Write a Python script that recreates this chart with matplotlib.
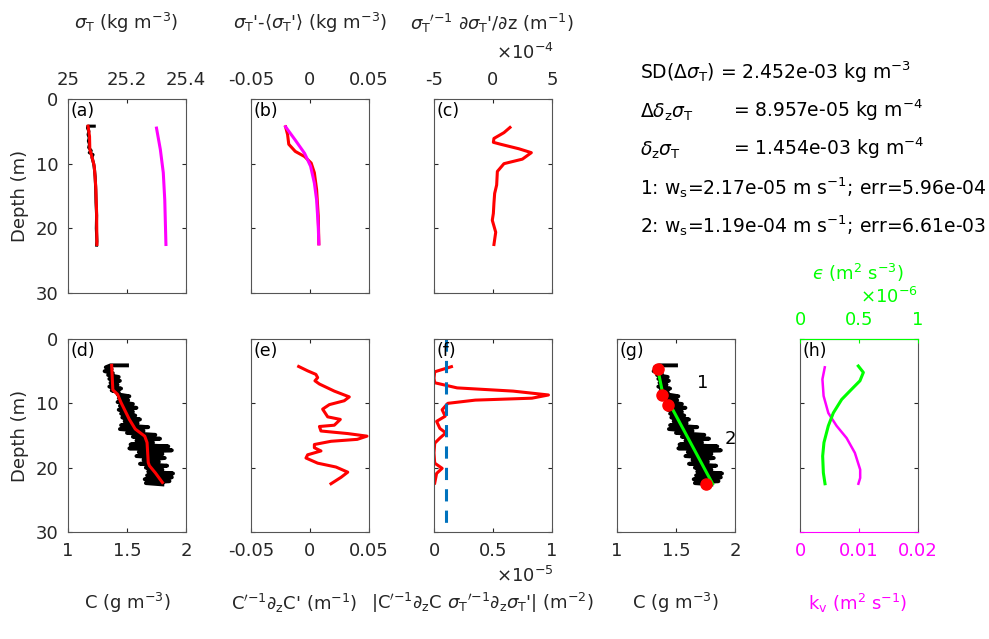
import matplotlib
matplotlib.use("Agg")
import matplotlib.pyplot as plt

plt.rcParams['font.family'] = ['DejaVu Sans']
plt.rcParams['mathtext.fontset'] = 'dejavusans'

W, H = 989, 639
GRAY = '#262626'
RED, MAG, GRN, BLU = '#FF0000', '#FF00FF', '#00FF00', '#0072BD'

# ---------------- data ----------------
depth_ticks = [0, 10, 20, 30]

# (a)
a_depth_raw = [4.2, 4.2, 4.5, 5.0, 5.5, 6.0, 6.5, 7.0, 7.5, 8.0, 8.3, 8.6, 9.0, 10.0, 11.0, 12.0, 14.0, 16.0, 18.0, 20.0, 22.0, 22.6]
a_sig_raw = [25.089, 25.067, 25.066, 25.071, 25.068, 25.072, 25.069, 25.073, 25.070, 25.079, 25.072, 25.085, 25.081, 25.087, 25.090, 25.092, 25.094, 25.095, 25.097, 25.096, 25.098, 25.097]
a_depth_s = [4.2, 5.8, 7.8, 8.9, 10.4, 13.5, 17.6, 22.5]
a_sig_s = [25.068, 25.073, 25.074, 25.081, 25.089, 25.094, 25.097, 25.098]
a_depth_m = [4.5, 7.8, 11.4, 15.6, 22.5]
a_sig_m = [25.300, 25.313, 25.323, 25.328, 25.332]
a_ticks = [25, 25.2, 25.4]

# (b)
b_depth_r = [4.3, 5.5, 7.0, 8.1, 8.9, 9.9, 11.4, 14.0, 18.1, 22.4]
b_val_r = [-0.0207, -0.019, -0.018, -0.0125, -0.0046, 0.001, 0.0037, 0.0056, 0.007, 0.0075]
b_depth_m = [4.3, 6.3, 8.4, 10.4, 13.0, 15.6, 19.7, 22.4]
b_val_m = [-0.0207, -0.0127, -0.0046, 0.0005, 0.0037, 0.0056, 0.007, 0.0075]
b_ticks = [-0.05, 0, 0.05]

# (c)
c_depth = [4.4, 5.2, 6.1, 6.7, 7.0, 7.7, 8.3, 9.3, 10.0, 11.2, 13.3, 14.6, 16.1, 17.7, 18.75, 20.6, 22.5]
c_val = [1.44e-4, 0.93e-4, 0.08e-4, 0.03e-4, 0.65e-4, 2.2e-4, 3.25e-4, 2.49e-4, 0.93e-4, 0.37e-4, 0.31e-4, 0.14e-4, 0.08e-4, 0.03e-4, -0.06e-4, 0.23e-4, 0.08e-4]
c_ticks = [-5e-4, 0, 5e-4]
c_ticklabels = ['-5', '0', '5']

# (d) and (g) raw concentration
C_depth_raw = [4.1, 4.1, 4.4, 4.7, 5.0, 5.3, 5.6, 5.9, 6.2, 6.5,
               6.8, 7.1, 7.4, 7.7, 8.0, 8.3, 8.6, 8.9, 9.2, 9.5,
               9.8, 10.1, 10.4, 10.7, 11.0, 11.3, 11.6, 11.9, 12.2, 12.5,
               12.8, 13.1, 13.4, 13.7, 14.0, 14.3, 14.6, 14.9, 15.2, 15.5,
               15.8, 16.1, 16.4, 16.7, 17.0, 17.3, 17.6, 17.9, 18.2, 18.5,
               18.8, 19.1, 19.4, 19.7, 20.0, 20.3, 20.6, 20.9, 21.2, 21.5,
               21.8, 22.1, 22.4, 22.6]
C_raw = [1.50, 1.36, 1.32, 1.37, 1.31, 1.38, 1.34, 1.43, 1.35, 1.44,
         1.36, 1.42, 1.35, 1.45, 1.37, 1.43, 1.42, 1.52, 1.43, 1.51,
         1.42, 1.55, 1.44, 1.58, 1.43, 1.55, 1.45, 1.57, 1.46, 1.61,
         1.48, 1.59, 1.45, 1.68, 1.44, 1.64, 1.50, 1.74, 1.55, 1.78,
         1.58, 1.72, 1.53, 1.85, 1.52, 1.88, 1.60, 1.80, 1.58, 1.82,
         1.64, 1.77, 1.61, 1.84, 1.66, 1.80, 1.68, 1.89, 1.67, 1.88,
         1.65, 1.86, 1.66, 1.80]
d_depth_s = [4.1, 7.9, 8.6, 9.9, 12.5, 14.0, 15.1, 16.1, 19.2, 19.7, 20.8, 22.3]
d_c_s = [1.37, 1.38, 1.42, 1.45, 1.52, 1.57, 1.65, 1.67, 1.68, 1.69, 1.74, 1.80]
C_ticks = [1, 1.5, 2]

# (e)
e_depth = [4.27, 4.95, 5.5, 6.0, 6.5, 7.0, 8.1, 9.0, 9.6, 10.2, 10.9, 12.1, 12.5, 13.4, 13.6, 14.3,
           14.7, 15.1, 15.6, 15.9, 16.4, 16.9, 17.4, 18.0, 18.5, 19.3, 19.9, 20.7, 21.5, 22.5]
e_val = [-0.0096, -0.002, 0.005, 0.0065, 0.0042, 0.008, 0.0206, 0.0333, 0.029, 0.0164, 0.0107, 0.015,
         0.0257, 0.0206, 0.008, 0.0093, 0.032, 0.0483, 0.040, 0.0178, 0.0037, 0.0037, 0.0093, -0.002,
         -0.0034, 0.0065, 0.022, 0.032, 0.0263, 0.0178]
e_ticks = [-0.05, 0, 0.05]

# (f)
f_depth = [4.3, 5.1, 6.1, 6.8, 7.6, 8.1, 8.7, 9.2, 9.5, 10.0, 11.0, 12.0, 12.8, 13.9, 14.6, 15.4, 16.2, 17.7, 19.3, 20.1, 20.9, 22.4]
f_val = [0.148e-5, 0.006e-5, 0.0, 0.006e-5, 0.196e-5, 0.67e-5, 0.97e-5, 0.83e-5, 0.35e-5, 0.117e-5, 0.069e-5, 0.095e-5, 0.022e-5, 0.05e-5, 0.1e-5, 0.05e-5, 0.006e-5, 0.0, 0.006e-5, 0.069e-5, 0.022e-5, 0.006e-5]
f_thresh = 0.1e-5
f_thresh_depth = [0, 29]
f_ticks = [0, 0.5e-5, 1e-5]
f_ticklabels = ['0', '0.5', '1']

# (g)
g_break_depth = [4.6, 8.7, 10.2, 22.5]
g_break_c = [1.345, 1.383, 1.431, 1.75]
g_fit1_depth = [4.6, 8.7]
g_fit1_c = [1.345, 1.39]
g_fit2_depth = [10.2, 22.5]
g_fit2_c = [1.45, 1.81]

# (h)
h_depth_k = [4.4, 6.25, 8.85, 11.5, 13.5, 15.4, 17.7, 20.3, 21.6, 22.5]
h_kv = [0.0042, 0.0038, 0.0040, 0.0048, 0.0062, 0.0079, 0.0093, 0.0102, 0.0102, 0.0099]
h_depth_e = [4.2, 5.2, 6.5, 7.8, 9.4, 11.5, 13.5, 16.1, 18.2, 20.8, 22.5]
h_eps = [0.494e-6, 0.537e-6, 0.508e-6, 0.438e-6, 0.353e-6, 0.282e-6, 0.24e-6, 0.203e-6, 0.192e-6, 0.198e-6, 0.212e-6]
h_kv_ticks = [0, 0.01, 0.02]
h_eps_ticks = [0, 0.5e-6, 1e-6]
h_eps_ticklabels = ['0', '0.5', '1']

stats_lines = [
    (r"SD($\Delta\sigma_\mathrm{T}$) = 2.452e-03 kg m$^{-3}$", None),
    (r"$\Delta\delta_\mathrm{z}\sigma_\mathrm{T}$", r"= 8.957e-05 kg m$^{-4}$"),
    (r"$\delta_\mathrm{z}\sigma_\mathrm{T}$", r"= 1.454e-03 kg m$^{-4}$"),
    (r"1: w$_\mathrm{s}$=2.17e-05 m s$^{-1}$; err=5.96e-04", None),
    (r"2: w$_\mathrm{s}$=1.19e-04 m s$^{-1}$; err=6.61e-03", None),
]

# ---------------- figure ----------------
fig = plt.figure(figsize=(W / 100, H / 100), dpi=100)
FS = 13


def box(l, r, t, b):
    return [l / W, 1 - b / H, (r - l) / W, (b - t) / H]


def ftext(x, y, s, **kw):
    kw.setdefault('fontsize', FS)
    kw.setdefault('color', GRAY)
    kw.setdefault('ha', 'center')
    kw.setdefault('va', 'center')
    return fig.text(x / W, 1 - y / H, s, **kw)


COLS = [68, 251, 434, 617, 800]
CW = 118
TOP = (99, 293)
BOT = (339, 532)


def make_ax(col, row, xlim, xticks, xticklabels=None, letter='', ylabel=False, top=False):
    t, b = row
    l = COLS[col]
    ax = fig.add_axes(box(l, l + CW, t, b))
    ax.set_xlim(*xlim)
    ax.set_ylim(30, 0)
    ax.set_yticks(depth_ticks)
    ax.set_xticks(xticks)
    if xticklabels is not None:
        ax.set_xticklabels(xticklabels)
    ax.tick_params(direction='in', length=3, width=0.8, colors=GRAY, labelsize=FS,
                   top=True, bottom=True, left=True, right=True,
                   labeltop=top, labelbottom=not top, labelleft=ylabel, pad=7)
    for s in ax.spines.values():
        s.set_color('#555555')
        s.set_linewidth(0.8)
    if ylabel:
        ax.set_ylabel('Depth (m)', fontsize=FS, color=GRAY)
        ax.yaxis.set_label_coords(-0.33, 0.5)
    ax.text(0.02, 0.985, letter, transform=ax.transAxes, ha='left', va='top',
            fontsize=12.5, color='black')
    return ax


# (a)
ax = make_ax(0, TOP, (25, 25.4), a_ticks, ['25', '25.2', '25.4'], '(a)', ylabel=True, top=True)
ax.plot(a_sig_raw, a_depth_raw, color='black', lw=2.2)
ax.plot(a_sig_s, a_depth_s, color=RED, lw=2.2)
ax.plot(a_sig_m, a_depth_m, color=MAG, lw=2.2)

# (b)
ax = make_ax(1, TOP, (-0.05, 0.05), b_ticks, ['-0.05', '0', '0.05'], '(b)', top=True)
ax.plot(b_val_r, b_depth_r, color=RED, lw=2.2)
ax.plot(b_val_m, b_depth_m, color=MAG, lw=2.2)

# (c)
ax = make_ax(2, TOP, (-5e-4, 5e-4), c_ticks, c_ticklabels, '(c)', top=True)
ax.plot(c_val, c_depth, color=RED, lw=2.2)

# (d)
ax = make_ax(0, BOT, (1, 2), C_ticks, ['1', '1.5', '2'], '(d)', ylabel=True)
ax.plot(C_raw, C_depth_raw, color='black', lw=2.8)
ax.plot(d_c_s, d_depth_s, color=RED, lw=2.2)

# (e)
ax = make_ax(1, BOT, (-0.05, 0.05), e_ticks, ['-0.05', '0', '0.05'], '(e)')
ax.plot(e_val, e_depth, color=RED, lw=2.2)

# (f)
ax = make_ax(2, BOT, (0, 1e-5), f_ticks, f_ticklabels, '(f)')
ax.plot(f_val, f_depth, color=RED, lw=2.2)
ax.plot([f_thresh, f_thresh], f_thresh_depth, color=BLU, lw=2.2, ls=(0, (4, 3)))

# (g)
ax = make_ax(3, BOT, (1, 2), C_ticks, ['1', '1.5', '2'], '(g)')
ax.plot(C_raw, C_depth_raw, color='black', lw=2.8)
ax.plot(g_fit1_c, g_fit1_depth, color=GRN, lw=2.2)
ax.plot(g_fit2_c, g_fit2_depth, color=GRN, lw=2.2)
ax.plot(g_break_c, g_break_depth, ls='none', marker='o', ms=8, color=RED)
ax.text(1.73, 6.8, '1', fontsize=FS, color='black', ha='center', va='center')
ax.text(1.96, 15.5, '2', fontsize=FS, color='black', ha='center', va='center')

# (h)
ax = make_ax(4, BOT, (0, 0.02), h_kv_ticks, ['0', '0.01', '0.02'], '(h)')
ax.tick_params(axis='x', colors=MAG, top=False)
ax.spines['bottom'].set_color(MAG)
ax.plot(h_kv, h_depth_k, color=MAG, lw=1.8)
ax2 = ax.twiny()
ax2.set_xlim(0, 1e-6)
ax2.set_xticks(h_eps_ticks)
ax2.set_xticklabels(h_eps_ticklabels)
ax2.tick_params(axis='x', direction='in', length=3, colors=GRN, labelsize=FS, pad=7)
for s in ax2.spines.values():
    s.set_visible(False)
ax2.spines['top'].set_visible(True)
ax2.spines['top'].set_color(GRN)
ax2.plot(h_eps, h_depth_e, color=GRN, lw=2.2)

# labels
ftext(126, 23, r"$\sigma_\mathrm{T}$ (kg m$^{-3}$)")
ftext(310, 23, r"$\sigma_\mathrm{T}$'-$\langle\sigma_\mathrm{T}$'$\rangle$ (kg m$^{-3}$)")
ftext(492, 23, r"$\sigma_\mathrm{T}{}^{\prime\mathrm{-1}}$ $\partial\sigma_\mathrm{T}$'/$\partial$z (m$^{-1}$)")
ftext(525, 53, r"×10$^{-4}$")

ftext(127, 603, r"C (g m$^{-3}$)")
ftext(294, 603, r"C$^{\prime\mathrm{-1}}\partial_\mathrm{z}$C' (m$^{-1}$)")
ftext(482, 603, r"|C$^{\prime\mathrm{-1}}\partial_\mathrm{z}$C $\sigma_\mathrm{T}{}^{\prime\mathrm{-1}}\partial_\mathrm{z}\sigma_\mathrm{T}$'| (m$^{-2}$)")
ftext(675, 603, r"C (g m$^{-3}$)")
ftext(525, 576, r"×10$^{-5}$")
ftext(858, 603, r"k$_\mathrm{v}$ (m$^2$ s$^{-1}$)", color=MAG)
ftext(858, 273, r"$ϵ$ (m$^2$ s$^{-3}$)", color=GRN)
ftext(889, 297, r"×10$^{-6}$", color=GRN)

ys = [72, 112, 150, 188, 226]
for (left, right), y in zip(stats_lines, ys):
    ftext(640, y, left, ha='left', color='black', fontsize=13.5)
    if right:
        ftext(733, y - 2, right, ha='left', color='black', fontsize=13.5)

fig.savefig('out.png', dpi=100)
